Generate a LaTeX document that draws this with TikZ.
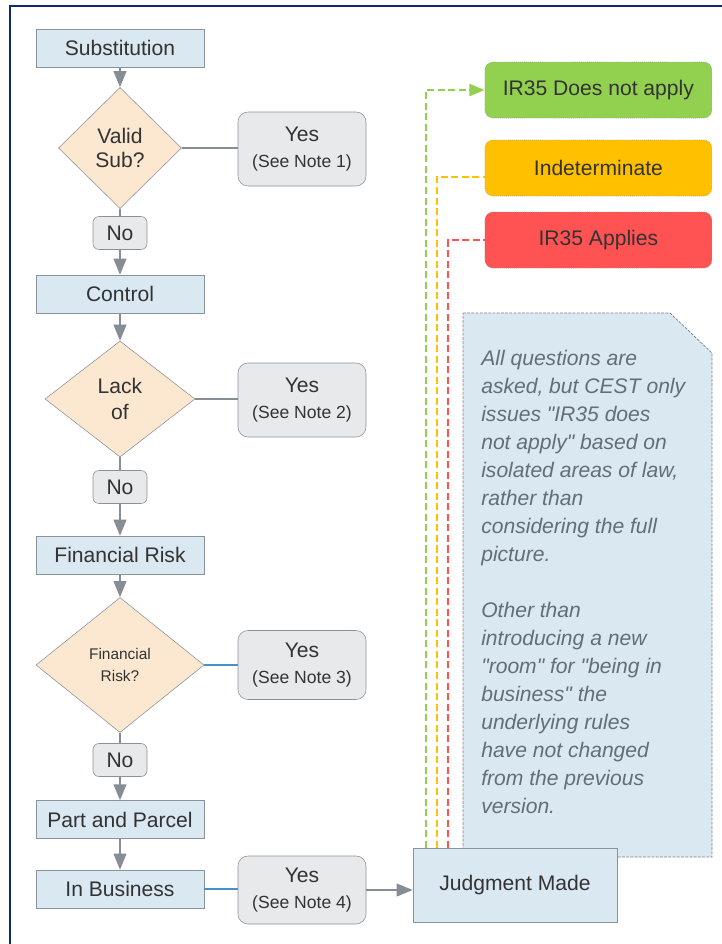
\documentclass[tikz,border=0pt]{standalone}
\usepackage{fontspec}
\setmainfont{Liberation Sans}
\usetikzlibrary{shapes.geometric,arrows.meta,calc}

\definecolor{stagefill}{HTML}{D9E8F1}
\definecolor{questfill}{HTML}{FCE8D0}
\definecolor{ansfill}{HTML}{E8E9EB}
\definecolor{edgegray}{HTML}{8A9299}
\definecolor{flowgray}{HTML}{868D95}
\definecolor{linkblue}{HTML}{4A90C8}
\definecolor{txtgray}{HTML}{333333}
\definecolor{notegray}{HTML}{646E76}
\definecolor{okgreen}{HTML}{92D050}
\definecolor{midamber}{HTML}{FFC000}
\definecolor{badred}{HTML}{FF5252}
\definecolor{navyline}{HTML}{0D2A6B}

\newcommand{\qq}{\textquotedbl}

\begin{document}
\begin{tikzpicture}[
    stage/.style={draw=edgegray, fill=stagefill, minimum width=4.2cm, minimum height=0.95cm, inner sep=0pt, text=txtgray, font=\fontsize{15}{18}\selectfont},
    quest/.style={diamond, draw=edgegray, fill=questfill, inner sep=0pt, align=center, text=txtgray, font=\fontsize{15}{17}\selectfont},
    answer/.style={draw=edgegray, fill=ansfill, rounded corners=0.25cm, align=center, inner sep=0pt, text=txtgray, font=\fontsize{15}{19}\selectfont},
    outcome/.style={draw=gray!80, densely dotted, rounded corners=0.2cm, minimum width=5.675cm, minimum height=1.4cm, text=txtgray, font=\fontsize{15}{18}\selectfont},
    flow/.style={draw=flowgray, line width=1pt, -{Triangle[length=0.4cm,width=0.32cm]}},
    link/.style={draw=flowgray, line width=0.8pt},
    verdict/.style={line width=1.5pt, dash pattern=on 5pt off 2.5pt},
]
    \useasboundingbox (0,0) rectangle (18.05,-23.6);
    \draw[navyline, line width=1.5pt] (0.25,-23.6) -- (0.25,-0.15) -- (18.05,-0.15);

    \node[stage] (sub) at (3.0,-1.2) {Substitution};
    \node[quest, minimum width=3.075cm, minimum height=3.025cm] (validsub) at (3.0,-3.7) {Valid\\Sub?};
    \node[answer, minimum width=3.2cm, minimum height=1.85cm] (yes1) at (7.55,-3.725) {Yes\\{\fontsize{12.5}{19}\selectfont (See Note 1)}};
    \node[answer, rounded corners=0.15cm, minimum width=1.35cm, minimum height=0.825cm] (no1) at (3.0,-5.825) {No};
    \node[stage] (ctrl) at (3.0,-7.35) {Control};
    \node[quest, minimum width=3.75cm, minimum height=2.9cm, font=\fontsize{15}{19}\selectfont] (lackof) at (3.0,-9.975) {Lack\\of};
    \node[answer, minimum width=3.2cm, minimum height=1.85cm] (yes2) at (7.55,-10.0) {Yes\\{\fontsize{12.5}{19}\selectfont (See Note 2)}};
    \node[answer, rounded corners=0.15cm, minimum width=1.35cm, minimum height=0.825cm] (no2) at (3.0,-12.175) {No};
    \node[stage] (finrisk) at (3.0,-13.875) {Financial Risk};
    \node[quest, minimum width=4.2cm, minimum height=3.375cm, font=\fontsize{11}{15.5}\selectfont] (finq) at (3.0,-16.625) {Financial\\Risk?};
    \node[answer, minimum width=3.2cm, minimum height=1.725cm] (yes3) at (7.55,-16.625) {Yes\\{\fontsize{12.5}{19}\selectfont (See Note 3)}};
    \node[answer, rounded corners=0.15cm, minimum width=1.35cm, minimum height=0.825cm] (no3) at (3.0,-19.0) {No};
    \node[stage] (parcel) at (3.0,-20.49) {Part and Parcel};
    \node[stage] (inbiz) at (3.0,-22.225) {In Business};
    \node[answer, minimum width=3.2cm, minimum height=1.7cm] (yes4) at (7.55,-22.25) {Yes\\{\fontsize{12.5}{19}\selectfont (See Note 4)}};

    \node[outcome, fill=okgreen] (notapply) at (14.96,-2.25) {IR35 Does not apply};
    \node[outcome, fill=midamber] (indet) at (14.96,-4.2) {Indeterminate};
    \node[outcome, fill=badred] (applies) at (14.96,-6.0) {IR35 Applies};

    \draw[draw=gray, fill=stagefill, line width=0.5pt, dash pattern=on 2pt off 1pt] (11.575,-7.825) -- (16.75,-7.825) -- (17.8,-8.825) -- (17.8,-21.425) -- (11.575,-21.425) -- cycle;
    \node[anchor=north west, align=left, inner sep=0pt, text=notegray, font=\itshape\fontsize{15}{19.9}\selectfont] (note) at (12.025,-8.75) {All questions are\\asked, but CEST only\\issues \qq IR35 does\\not apply\qq{} based on\\isolated areas of law,\\rather than\\considering the full\\picture.\\[19.9pt]Other than\\introducing a new\\\qq room\qq{} for \qq being in\\business\qq{} the\\underlying rules\\have not changed\\from the previous\\version.};

    \node[stage, minimum width=5.1cm, minimum height=1.85cm] (judge) at (12.875,-22.125) {Judgment Made};

    \draw[flow] (sub) -- (validsub);
    \draw[link] (validsub.east) -- (yes1.west |- validsub.east);
    \draw[link] (validsub) -- (no1);
    \draw[flow] (no1) -- (ctrl);
    \draw[flow] (ctrl) -- (lackof);
    \draw[link] (lackof.east) -- (yes2.west |- lackof.east);
    \draw[link] (lackof) -- (no2);
    \draw[flow] (no2) -- (finrisk);
    \draw[flow] (finrisk) -- (finq);
    \draw[link, draw=linkblue] (finq.east) -- (yes3.west |- finq.east);
    \draw[link] (finq) -- (no3);
    \draw[flow] (no3) -- (parcel);
    \draw[flow] (parcel) -- (inbiz);
    \draw[link, draw=linkblue] (inbiz.east) -- (yes4.west |- inbiz.east);
    \draw[flow] (yes4.east) -- (judge.west |- yes4.east);

    \draw[verdict, draw=okgreen, -{Triangle[length=0.38cm,width=0.3cm]}] ($(judge.north west)+(0.325,0)$) |- (notapply.west);
    \draw[verdict, draw=midamber] ($(judge.north west)+(0.6,0)$) |- ([yshift=-0.225cm]indet.west);
    \draw[verdict, draw=badred] ($(judge.north west)+(0.875,0)$) |- (applies.west);
\end{tikzpicture}
\end{document}
